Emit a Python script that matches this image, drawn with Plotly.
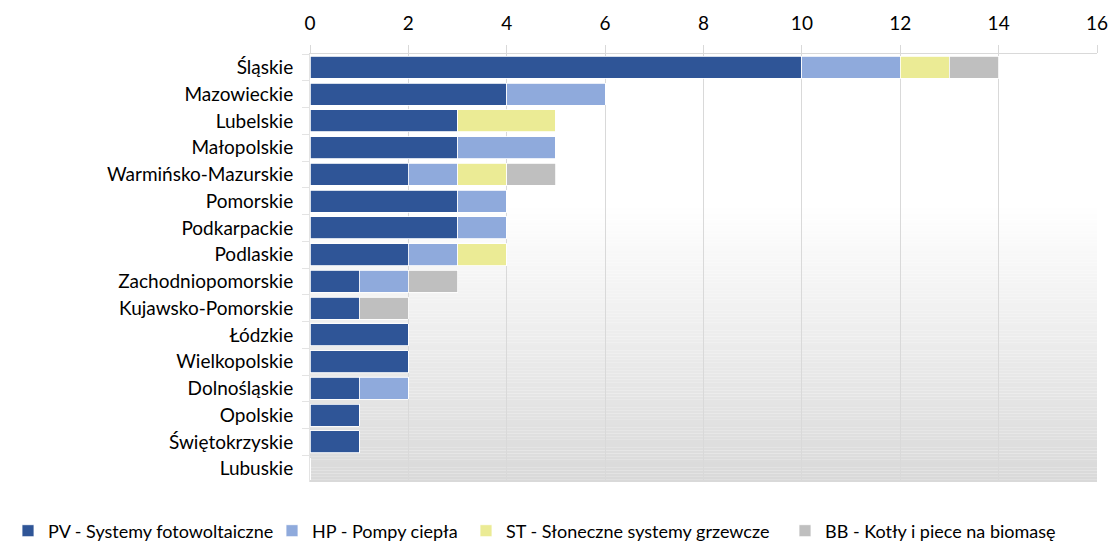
import plotly.graph_objects as go

regions = ["Śląskie", "Mazowieckie", "Lubelskie", "Małopolskie", "Warmińsko-Mazurskie",
           "Pomorskie", "Podkarpackie", "Podlaskie", "Zachodniopomorskie", "Kujawsko-Pomorskie",
           "Łódzkie", "Wielkopolskie", "Dolnośląskie", "Opolskie", "Świętokrzyskie", "Lubuskie"]
pv = [10, 4, 3, 3, 2, 3, 3, 2, 1, 1, 2, 2, 1, 1, 1, 0]
hp = [2, 2, 0, 2, 1, 1, 1, 1, 1, 0, 0, 0, 1, 0, 0, 0]
st = [1, 0, 2, 0, 1, 0, 0, 1, 0, 0, 0, 0, 0, 0, 0, 0]
bb = [1, 0, 0, 0, 1, 0, 0, 0, 1, 1, 0, 0, 0, 0, 0, 0]

series = [
    ("PV - Systemy fotowoltaiczne", pv, "#2f5597"),
    ("HP - Pompy ciepła", hp, "#8faadc"),
    ("ST - Słoneczne systemy grzewcze", st, "#ebeb95"),
    ("BB - Kotły i piece na biomasę", bb, "#bfbfbf"),
]

W, H = 1108, 538
legend_ids = ["legend", "legend2", "legend3", "legend4"]
legend_px = [0, 264, 458, 777]

fig = go.Figure()
for (name, vals, col), lid in zip(series, legend_ids):
    fig.add_trace(go.Bar(
        y=regions, x=vals, name=name, orientation="h", legend=lid,
        marker=dict(color=col, line=dict(color="white", width=0.8)),
    ))

# gradient background (white at top to light grey at bottom)
n = 150
shapes = []
for i in range(n):
    t = i / (n - 1)
    f = max(0.0, (t - 0.35) / 0.65)
    v = int(round(255 - (255 - 217) * f))
    shapes.append(dict(type="rect", xref="x domain", yref="y domain",
                       x0=0, x1=1, y0=1 - (i + 1) / n, y1=1 - i / n,
                       fillcolor=f"rgb({v},{v},{v})", line=dict(width=0), layer="below"))

legends = {}
for lid, px in zip(legend_ids, legend_px):
    legends[lid] = dict(orientation="h", xref="container", yref="container",
                        x=px / W, xanchor="left", y=(H - 523) / H, yanchor="middle",
                        font=dict(size=18), itemwidth=30, bgcolor="rgba(0,0,0,0)")

fig.update_layout(
    barmode="stack",
    bargap=0.18,
    width=W, height=H,
    margin=dict(l=302, r=19, t=46, b=64),
    paper_bgcolor="white",
    plot_bgcolor="rgba(0,0,0,0)",
    shapes=shapes,
    font=dict(family="Lato, 'Open Sans', sans-serif", size=19, color="#000000"),
    showlegend=True,
    xaxis=dict(side="top", range=[0, 16], dtick=2, showgrid=True, gridcolor="#d9d9d9", gridwidth=1,
               showline=True, linecolor="#d9d9d9", ticks="outside", tickcolor="#d9d9d9", ticklen=8,
               zeroline=False, tickfont=dict(size=19), automargin=False, ticklabelstandoff=7),
    yaxis=dict(autorange="reversed", showgrid=False, ticks="outside", tickson="boundaries",
               ticklen=7, tickcolor="#e3e3e3", showline=True, linecolor="#e3e3e3",
               tickfont=dict(size=19), zeroline=False, automargin=False, ticklabelstandoff=12),
    **legends,
)

fig.write_html("out.html")
